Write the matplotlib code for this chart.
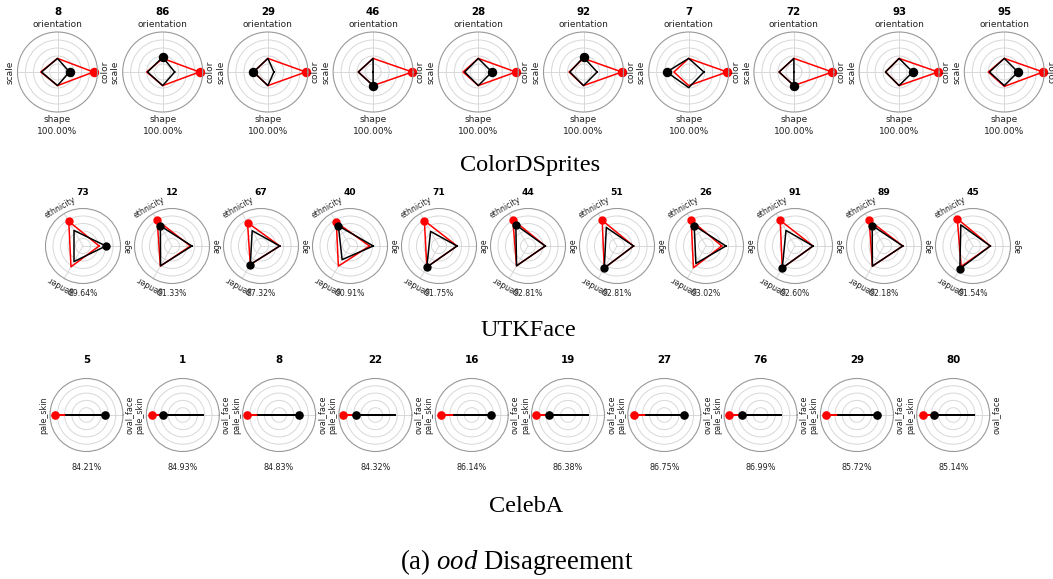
import numpy as np
import matplotlib
matplotlib.use("Agg")
import matplotlib.pyplot as plt

W, H = 1053, 579

plt.rcParams["mathtext.fontset"] = "custom"
plt.rcParams["mathtext.rm"] = "Liberation Serif"
plt.rcParams["mathtext.it"] = "Liberation Serif:italic"

# ColorDSprites: factor order color, orientation, scale, shape
dsprites_factors = ["color", "orientation", "scale", "shape"]
dsprites_ids = [8, 86, 29, 46, 28, 92, 7, 72, 93, 95]
dsprites_black = [
    [0.30, 0.34, 0.40, 0.34],
    [0.30, 0.37, 0.38, 0.34],
    [0.15, 0.34, 0.36, 0.34],
    [0.00, 0.34, 0.37, 0.34],
    [0.34, 0.34, 0.34, 0.34],
    [0.34, 0.37, 0.34, 0.34],
    [0.38, 0.34, 0.55, 0.39],
    [0.00, 0.34, 0.37, 0.34],
    [0.34, 0.34, 0.34, 0.34],
    [0.34, 0.34, 0.37, 0.34],
]
dsprites_red = [
    [0.90, 0.34, 0.42, 0.34],
    [0.92, 0.34, 0.40, 0.34],
    [0.95, 0.34, 0.36, 0.34],
    [0.98, 0.34, 0.37, 0.34],
    [0.94, 0.34, 0.38, 0.34],
    [0.96, 0.34, 0.36, 0.34],
    [0.96, 0.34, 0.37, 0.34],
    [0.96, 0.34, 0.37, 0.34],
    [0.98, 0.34, 0.34, 0.34],
    [0.97, 0.34, 0.40, 0.36],
]
dsprites_black_pick = [0, 1, 2, 3, 0, 1, 2, 3, 0, 0]
dsprites_red_pick = [0] * 10
dsprites_acc = [100.00] * 10

# UTKFace: age, ethnicity, gender
utk_factors = ["age", "ethnicity", "gender"]
utk_ids = [73, 12, 67, 40, 71, 44, 51, 26, 91, 89, 45]
utk_black = [
    [0.61, 0.48, 0.48],
    [0.53, 0.62, 0.61],
    [0.50, 0.47, 0.57],
    [0.62, 0.62, 0.42],
    [0.48, 0.45, 0.65],
    [0.46, 0.65, 0.61],
    [0.44, 0.57, 0.68],
    [0.53, 0.63, 0.54],
    [0.48, 0.48, 0.68],
    [0.50, 0.63, 0.62],
    [0.46, 0.65, 0.70],
]
utk_red = [
    [0.43, 0.76, 0.64],
    [0.49, 0.79, 0.62],
    [0.50, 0.72, 0.57],
    [0.52, 0.73, 0.62],
    [0.48, 0.78, 0.65],
    [0.46, 0.81, 0.61],
    [0.44, 0.79, 0.68],
    [0.42, 0.79, 0.67],
    [0.48, 0.79, 0.68],
    [0.50, 0.79, 0.62],
    [0.46, 0.84, 0.63],
]
utk_black_pick = [0, 1, 2, 1, 2, 1, 2, 1, 2, 1, 2]
utk_red_pick = [1] * 11
utk_acc = [89.64, 91.33, 87.32, 90.91, 91.75, 92.81, 92.81, 93.02, 92.60, 92.18, 91.54]

# CelebA: oval_face, pale_skin
celeba_factors = ["oval_face", "pale_skin"]
celeba_ids = [5, 1, 8, 22, 16, 19, 27, 76, 29, 80]
celeba_black = [
    [0.52, 0.55],
    [0.55, 0.53],
    [0.55, 0.57],
    [0.54, 0.54],
    [0.53, 0.49],
    [0.54, 0.53],
    [0.55, 0.50],
    [0.56, 0.51],
    [0.56, 0.52],
    [0.58, 0.52],
]
celeba_red = [
    [0.50, 0.86],
    [0.50, 0.85],
    [0.50, 0.88],
    [0.50, 0.88],
    [0.50, 0.85],
    [0.50, 0.89],
    [0.50, 0.82],
    [0.50, 0.87],
    [0.50, 0.84],
    [0.50, 0.83],
]
celeba_black_pick = [0, 1, 0, 1, 0, 1, 0, 1, 0, 1]
celeba_red_pick = [1] * 10
celeba_acc = [84.21, 84.93, 84.83, 84.32, 86.14, 86.38, 86.75, 86.99, 85.72, 85.14]

fig = plt.figure(figsize=(W / 100, H / 100), dpi=100)


def radar(cx, cy, R, factors, black, red, bpick, rpick, title, acc,
          ty, py, fs_title, fs_lab, ms, lab_r=1.2):
    ax = fig.add_axes([(cx - R) / W, 1 - (cy + R) / H, 2 * R / W, 2 * R / H],
                      projection="polar")
    n = len(factors)
    theta = np.arange(n) * 2 * np.pi / n
    ax.set_ylim(0, 1)
    ax.set_yticks([0.2, 0.4, 0.6, 0.8])
    ax.set_yticklabels([])
    ax.set_xticks(theta)
    ax.set_xticklabels([])
    ax.grid(color="#d8d8d8", linewidth=0.7)
    ax.spines["polar"].set_color("#999999")
    ax.spines["polar"].set_linewidth(0.8)
    tc = np.append(theta, theta[0])
    ax.plot(tc, red + [red[0]], color="red", lw=1.1, clip_on=False)
    ax.plot(theta[rpick], red[rpick], "o", color="red", ms=ms, clip_on=False)
    ax.plot(tc, black + [black[0]], color="black", lw=1.1, clip_on=False)
    ax.plot(theta[bpick], black[bpick], "o", color="black", ms=ms, clip_on=False)
    for f, t in zip(factors, theta):
        # tangent labels, kept within a half turn
        rot = (np.degrees(t) - 90) % 180
        ax.text(t, lab_r, f, rotation=rot, rotation_mode="anchor",
                ha="center", va="center", fontsize=fs_lab, color="#222222")
    fig.text(cx / W, 1 - ty / H, str(title), ha="center", va="center",
             fontsize=fs_title, fontweight="bold")
    fig.text(cx / W, 1 - py / H, f"{acc:.2f}%", ha="center", va="center",
             fontsize=fs_lab, color="#222222")


for i in range(len(dsprites_ids)):
    radar(57.5 + 105.2 * i, 72, 40, dsprites_factors, dsprites_black[i],
          dsprites_red[i], dsprites_black_pick[i], dsprites_red_pick[i],
          dsprites_ids[i], dsprites_acc[i], 12, 132, 7.4, 6.5, 5.8, 1.18)

for i in range(len(utk_ids)):
    radar(83 + 89 * i, 246, 37.5, utk_factors, utk_black[i], utk_red[i],
          utk_black_pick[i], utk_red_pick[i], utk_ids[i], utk_acc[i],
          193, 294, 6.6, 5.6, 5.0, 1.2)

for i in range(len(celeba_ids)):
    radar(86.5 + 96.3 * i, 415, 36.5, celeba_factors, celeba_black[i],
          celeba_red[i], celeba_black_pick[i], celeba_red_pick[i],
          celeba_ids[i], celeba_acc[i], 360, 467, 7.4, 5.8, 5.2, 1.17)

serif = dict(family="Liberation Serif", ha="center", va="center")
fig.text(530 / W, 1 - 166 / H, "ColorDSprites", fontsize=17.5, **serif)
fig.text(528 / W, 1 - 331 / H, "UTKFace", fontsize=17.5, **serif)
fig.text(526 / W, 1 - 506 / H, "CelebA", fontsize=17.5, **serif)
fig.text(517 / W, 1 - 562 / H, r"(a) $ood$ Disagreement", fontsize=19.3, **serif)

fig.savefig("out.png", dpi=100)
